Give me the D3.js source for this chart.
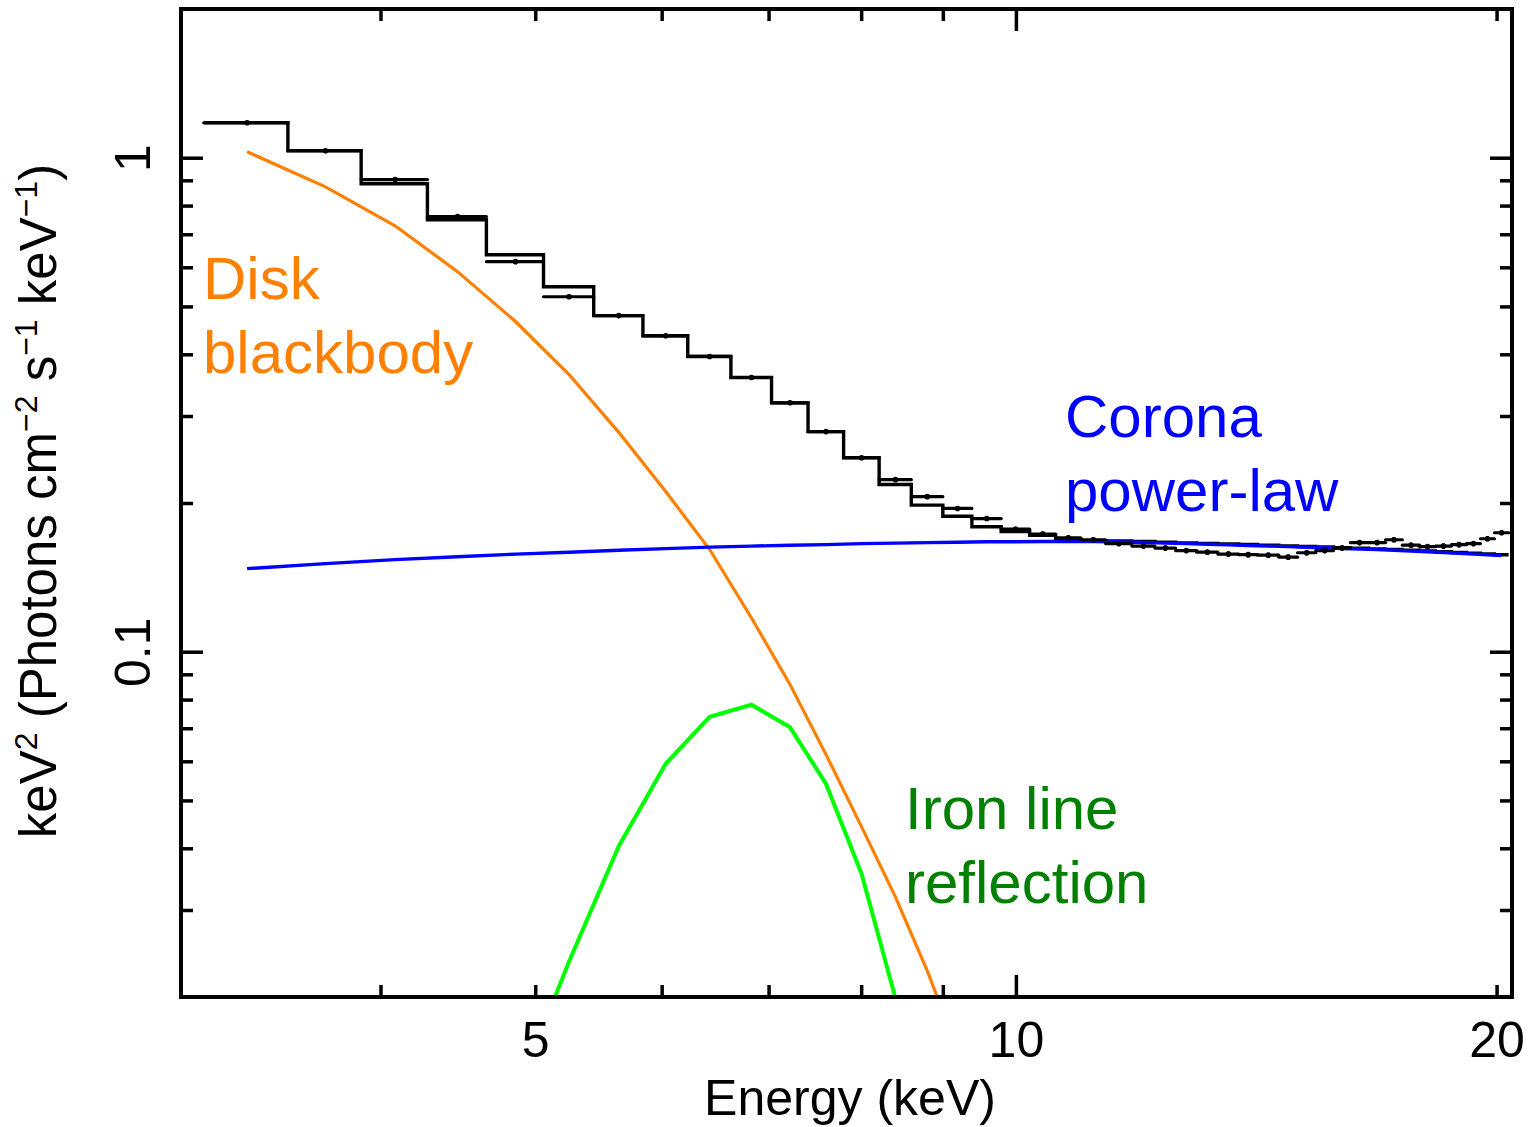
<!DOCTYPE html>
<html>
<head>
<meta charset="utf-8">
<script src="https://cdn.jsdelivr.net/npm/d3@7"></script>
<style>
  html, body { margin: 0; padding: 0; background: #fff; }
  svg { display: block; }
  text { font-family: "Liberation Sans", Arial, Helvetica, sans-serif; }
</style>
</head>
<body>
<svg id="chart" width="1528" height="1127"></svg>
<script>
// ---------------- data ----------------
// energy bin edges (keV)
const binEdges = [3.10, 3.50, 3.89, 4.28, 4.66, 5.06, 5.44, 5.84, 6.23, 6.63, 7.03, 7.41, 7.80, 8.21,
  8.60, 9.00, 9.385, 9.79, 10.20, 10.59, 10.98, 11.38, 11.82, 12.22, 12.59, 12.98, 13.38, 13.79,
  14.17, 14.61, 15.01, 15.41, 15.81, 16.20, 16.63, 17.04, 17.46, 17.90, 18.31, 18.74, 19.15,
  19.54, 19.94, 20.35];
// observed spectrum  keV^2 (Photons cm^-2 s^-1 keV^-1)
const dataFlux = [1.177, 1.033, 0.903, 0.760, 0.616, 0.523, 0.479, 0.436, 0.396, 0.359, 0.319,
  0.279, 0.247, 0.223, 0.206, 0.195, 0.186, 0.177, 0.173, 0.170, 0.1685, 0.1655, 0.1636, 0.1621,
  0.1602, 0.1590, 0.1576, 0.1572, 0.1568, 0.1554, 0.1586, 0.1602, 0.1622, 0.1663, 0.1663, 0.1685,
  0.1643, 0.1632, 0.1636, 0.1647, 0.1655, 0.1693, 0.1741];
const dataErr = [0.004, 0.004, 0.004, 0.003, 0.003, 0.003, 0.003, 0.002, 0.002, 0.002, 0.002,
  0.002, 0.002, 0.002, 0.002, 0.002, 0.002, 0.002, 0.002, 0.002, 0.002, 0.002, 0.002, 0.002,
  0.002, 0.002, 0.002, 0.002, 0.002, 0.002, 0.002, 0.002, 0.002, 0.002, 0.002, 0.002,
  0.002, 0.002, 0.002, 0.002, 0.002, 0.002, 0.002];
// total model (histogram)
const modelFlux = [1.177, 1.033, 0.886, 0.749, 0.636, 0.548, 0.479, 0.436, 0.396, 0.359, 0.319,
  0.279, 0.247, 0.218, 0.198, 0.188, 0.179, 0.175, 0.172, 0.1693, 0.1678, 0.1676, 0.1671, 0.1666,
  0.1661, 0.1657, 0.1652, 0.1648, 0.1643, 0.1638, 0.1633, 0.1629, 0.1624, 0.1620, 0.1615, 0.1611,
  0.1605, 0.1600, 0.1594, 0.1588, 0.1582, 0.1577, 0.1571];
// model components, evaluated at the bin centres
const powerLaw = [0.1473, 0.1508, 0.1536, 0.1557, 0.1576, 0.1590, 0.1605, 0.1617, 0.1628, 0.1636,
  0.1643, 0.1647, 0.1655, 0.1659, 0.1663, 0.1666, 0.1669, 0.1670, 0.1672, 0.1672, 0.1671, 0.1669,
  0.1664, 0.1659, 0.1655, 0.1650, 0.1646, 0.1641, 0.1636, 0.1632, 0.1627, 0.1623, 0.1618, 0.1614,
  0.1609, 0.1605, 0.1599, 0.1594, 0.1588, 0.1582, 0.1576, 0.1571, 0.1565];
const diskBB = [1.028, 0.873, 0.728, 0.588, 0.466, 0.364, 0.278, 0.211, 0.161, 0.117, 0.0858,
  0.0619, 0.0442, 0.0319, 0.0226, 0.0156];              // bins 1..16
const ironFirstBin = 4;                                  // iron line starts at bin 5
const ironLine = [0.0126, 0.0236, 0.0404, 0.0593, 0.0738, 0.0781, 0.0703, 0.0540, 0.0355,
  0.0199, 0.0100];
// axes
const xDomain = [3.0, 20.45];
const yDomain = [0.02, 2.0];
const xLabelTicks = [5, 10, 20];
const xMajorTicks = [10];
const xMinorTicks = [4, 5, 6, 7, 8, 9, 20];
const yLabelTicks = [1, 0.1];
const yMajorTicks = [1, 0.1];
const yMinorTicks = [0.03, 0.04, 0.05, 0.06, 0.07, 0.08, 0.09, 0.2, 0.3, 0.4, 0.5, 0.6, 0.7, 0.8, 0.9];
const annotations = [
  { lines: ["Disk", "blackbody"], color: "#FF8000" },
  { lines: ["Corona", "power-law"], color: "#0000FF" },
  { lines: ["Iron line", "reflection"], color: "#008000" }
];

// ---------------- layout ----------------
const L = 181, R = 1512, T = 9, B = 997;
const svg = d3.select("#chart");
const x = d3.scaleLog().domain(xDomain).range([L, R]);
const y = d3.scaleLog().domain(yDomain).range([B, T]);

const bins = dataFlux.map((d, i) => ({
  lo: binEdges[i], hi: binEdges[i + 1], c: (binEdges[i] + binEdges[i + 1]) / 2,
  data: d, err: dataErr[i], model: modelFlux[i]
}));

svg.append("defs").append("clipPath").attr("id", "plotclip")
  .append("rect").attr("x", L).attr("y", T).attr("width", R - L).attr("height", B - T);

const plot = svg.append("g").attr("clip-path", "url(#plotclip)");

// model histogram (step)
const stepPts = [];
bins.forEach(b => { stepPts.push([b.lo, b.model]); stepPts.push([b.hi, b.model]); });
plot.append("path")
  .attr("d", d3.line().x(p => x(p[0])).y(p => y(p[1]))(stepPts))
  .attr("fill", "none").attr("stroke", "#000").attr("stroke-width", 3.4)
  .attr("stroke-linejoin", "miter");

// components
const line = d3.line().x(p => x(p[0])).y(p => y(p[1]));
plot.append("path")
  .attr("d", line(diskBB.map((v, i) => [bins[i].c, v])))
  .attr("fill", "none").attr("stroke", "#FF8000").attr("stroke-width", 3.2);
plot.append("path")
  .attr("d", line(ironLine.map((v, i) => [bins[i + ironFirstBin].c, v])))
  .attr("fill", "none").attr("stroke", "#00FF00").attr("stroke-width", 4);
plot.append("path")
  .attr("d", line(powerLaw.map((v, i) => [bins[i].c, v])))
  .attr("fill", "none").attr("stroke", "#0000FF").attr("stroke-width", 3.4);

// data points with error bars
const pts = plot.append("g");
pts.selectAll("line.h").data(bins).join("line").attr("class", "h")
  .attr("x1", b => x(b.lo)).attr("x2", b => x(b.hi))
  .attr("y1", b => y(b.data)).attr("y2", b => y(b.data))
  .attr("stroke", "#000").attr("stroke-width", 3.2).attr("stroke-linecap", "round");
pts.selectAll("line.v").data(bins).join("line").attr("class", "v")
  .attr("x1", b => x(b.c)).attr("x2", b => x(b.c))
  .attr("y1", b => y(b.data + b.err)).attr("y2", b => y(b.data - b.err))
  .attr("stroke", "#000").attr("stroke-width", 3);
pts.selectAll("circle").data(bins).join("circle")
  .attr("cx", b => x(b.c)).attr("cy", b => y(b.data)).attr("r", 2.8).attr("fill", "#000");

// ---------------- axes ----------------
function tickAxis(axisFn, scale, values, size, tx, ty) {
  const g = svg.append("g").attr("transform", `translate(${tx},${ty})`)
    .call(axisFn(scale).tickValues(values).tickSize(-size).tickFormat(""));
  g.select(".domain").remove();
  g.selectAll(".tick line").attr("stroke", "#000").attr("stroke-width", 3.5);
  return g;
}
const minorLen = 12, majorLen = 22;
// bottom / top
tickAxis(d3.axisBottom, x, xMinorTicks, minorLen, 0, B);
tickAxis(d3.axisBottom, x, xMajorTicks, majorLen, 0, B);
tickAxis(d3.axisTop, x, xMinorTicks, minorLen, 0, T);
tickAxis(d3.axisTop, x, xMajorTicks, majorLen, 0, T);
// left / right
tickAxis(d3.axisLeft, y, yMinorTicks, minorLen, L, 0);
tickAxis(d3.axisLeft, y, yMajorTicks, majorLen, L, 0);
tickAxis(d3.axisRight, y, yMinorTicks, minorLen, R, 0);
tickAxis(d3.axisRight, y, yMajorTicks, majorLen, R, 0);

// x tick labels
const xl = svg.append("g").attr("transform", `translate(0,${B})`)
  .call(d3.axisBottom(x).tickValues(xLabelTicks).tickSize(0).tickPadding(24).tickFormat(d3.format("d")));
xl.select(".domain").remove();
xl.selectAll("text").attr("font-size", 50).attr("fill", "#000")
  .attr("font-family", "Liberation Sans, Arial, sans-serif");

// y tick labels (rotated)
const yl = svg.append("g").attr("transform", `translate(${L},0)`)
  .call(d3.axisLeft(y).tickValues(yLabelTicks).tickSize(0).tickFormat(d => d >= 1 ? d3.format("d")(d) : String(d)));
yl.select(".domain").remove();
yl.selectAll("text")
  .attr("x", null).attr("dy", null)
  .attr("transform", "translate(-31,0) rotate(-90)")
  .attr("text-anchor", "middle")
  .attr("font-size", 50).attr("fill", "#000")
  .attr("font-family", "Liberation Sans, Arial, sans-serif");

// frame
svg.append("rect").attr("x", L).attr("y", T).attr("width", R - L).attr("height", B - T)
  .attr("fill", "none").attr("stroke", "#000").attr("stroke-width", 4);

// axis titles
svg.append("text").attr("x", 850).attr("y", 1115).attr("text-anchor", "middle")
  .attr("font-size", 50).attr("fill", "#000").text("Energy (keV)");

const yt = svg.append("text").attr("transform", "translate(56,501) rotate(-90)")
  .attr("text-anchor", "middle").attr("font-size", 51).attr("fill", "#000");
const yParts = [["keV", 0], ["2", 1], [" (Photons cm", 0], ["\u22122", 1], [" s", 0], ["\u22121", 1],
  [" keV", 0], ["\u22121", 1], [")", 0]];
let prevSup = 0;
yParts.forEach(([t, sup]) => {
  const ts = yt.append("tspan").text(t);
  const dy = (sup ? -19 : 0) - (prevSup ? -19 : 0);
  if (dy) ts.attr("dy", dy);
  if (sup) ts.attr("font-size", 32);
  prevSup = sup;
});

// annotations
const annPos = [
  { x: 203, y: 299 },
  { x: 1065, y: 437 },
  { x: 905, y: 829 }
];
annotations.forEach((a, i) => {
  const t = svg.append("text").attr("x", annPos[i].x).attr("y", annPos[i].y)
    .attr("font-size", 60).attr("fill", a.color);
  a.lines.forEach((ln, j) => {
    t.append("tspan").attr("x", annPos[i].x).attr("dy", j ? 73.5 : 0).text(ln);
  });
});
</script>
</body>
</html>
